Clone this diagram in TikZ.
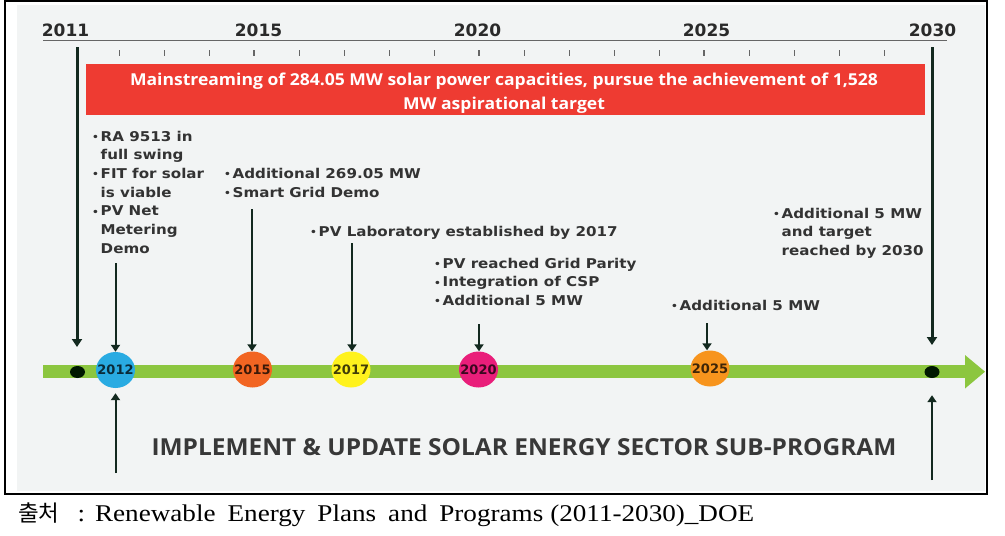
\documentclass[tikz,border=0pt]{standalone}
\usepackage{fontspec}
\setmainfont{Liberation Serif}
\newfontfamily\lab[FakeStretch=1.12]{DejaVu Sans}
\newfontfamily\yr{DejaVu Sans}
\newfontfamily\ban[FakeStretch=1.07]{Open Sans}
\newfontfamily\banw[FakeStretch=1.045]{Open Sans}
\newfontfamily\capf[FakeStretch=1.13]{Liberation Serif}
\newfontfamily\kr{Noto Sans CJK KR}
\usetikzlibrary{arrows.meta,shapes.geometric}
\definecolor{bgc}{HTML}{F2F4F4}
\definecolor{grn}{HTML}{8CC63F}
\definecolor{redc}{HTML}{EE3B32}
\definecolor{arrc}{HTML}{13291F}
\definecolor{txt}{HTML}{333333}
\definecolor{yearc}{HTML}{2A2A2A}
\definecolor{c12}{HTML}{29ABE2}
\definecolor{c15}{HTML}{F26522}
\definecolor{c17}{HTML}{FFF21D}
\definecolor{c20}{HTML}{E91E7A}
\definecolor{c25}{HTML}{F7941D}
\newcommand\bul{\makebox[8.5pt][l]{\fontsize{9.5}{9.5}\selectfont\raisebox{0.5pt}{•}}}
\newcommand\ind{\hspace*{8.5pt}}
\begin{document}
\begin{tikzpicture}[x=1pt,y=-1pt,
  arr/.style={draw=arrc, line width=2pt, -{Triangle[width=9pt,length=7pt]}},
  bigarr/.style={arr, line width=3pt, -{Triangle[width=10pt,length=8pt]}},
  blk/.style={anchor=base west, inner sep=0pt, text=txt, font=\lab\bfseries\fontsize{13.5}{18.7}\selectfont},
  yearlab/.style={anchor=base, inner sep=0pt, text=yearc, font=\yr\bfseries\fontsize{17}{17}\selectfont},
  circ/.style={rectangle, minimum width=39pt, minimum height=36pt, inner sep=0pt,
    path picture={\fill[#1] (path picture bounding box.center) ellipse (19.5 and 18);},
    text=#1!25!black, font=\yr\bfseries\fontsize{13}{13}\selectfont},
  tick/.style={draw=black!60, line width=0.9pt}
]
\useasboundingbox (0,0) rectangle (1005,536);
% background and frame
\fill[bgc] (17,5) rectangle (985,491);
\draw[black, line width=1.5pt] (5,1) rectangle (987,494);

% year scale
\node[yearlab] (y2011) at (65.5,36) {2011};
\node[yearlab] (y2015) at (258.5,36) {2015};
\node[yearlab] (y2020) at (477.5,36) {2020};
\node[yearlab] (y2025) at (706.5,36) {2025};
\node[yearlab] (y2030) at (932.5,36) {2030};
\draw[black!60, line width=1pt] (43,40.7) -- (947,40.7);
\foreach \i in {0,...,17} {
  \draw[tick] (119+45*\i,50) -- (119+45*\i,56);
}
\foreach \i in {3,8,13} {
  \draw[tick, line width=1.6pt] (119+45*\i,50) -- (119+45*\i,56);
}

% banner
\fill[redc] (86,64) rectangle (925,115);
\node[inner sep=0pt, text=white, align=center, font=\ban\bfseries\fontsize{16.4}{24}\selectfont, anchor=base] (banner) at (504,109)
  {Mainstreaming of 284.05 MW solar power capacities, pursue the achievement of 1,528\\MW aspirational target};

% timeline band
\fill[grn] (43,365) rectangle (967,378.3);
\fill[grn] (965,355) -- (985,371.7) -- (965,388.5) -- cycle;

% dots and circles
\node[ellipse, fill=black!90!green, minimum width=15pt, minimum height=12pt, inner sep=0pt] (dot2011) at (77.5,372) {};
\node[ellipse, fill=black!90!green, minimum width=15pt, minimum height=12pt, inner sep=0pt] (dot2030) at (932,372) {};
\node[circ=c12] (c2012) at (115.5,370) {2012};
\node[circ=c15] (c2015) at (252.5,369.5) {2015};
\node[circ=c17] (c2017) at (351,369.5) {2017};
\node[circ=c20] (c2020) at (478.5,369.5) {2020};
\node[circ=c25] (c2025) at (710,368.5) {2025};

% text blocks
\node[blk] (t2012) at (92,141) {\begin{tabular}[t]{@{}l@{}}\bul RA 9513 in\\\ind full swing\\\bul FIT for solar\\\ind is viable\\\bul PV Net\\\ind Metering\\\ind Demo\end{tabular}};
\node[blk] (t2015) at (224,178.3) {\begin{tabular}[t]{@{}l@{}}\bul Additional 269.05 MW\\\bul Smart Grid Demo\end{tabular}};
\node[blk] (t2017) at (310,236) {\bul PV Laboratory established by 2017};
\node[blk] (t2020) at (434,268) {\begin{tabular}[t]{@{}l@{}}\bul PV reached Grid Parity\\\bul Integration of CSP\\\bul Additional 5 MW\end{tabular}};
\node[blk] (t2025) at (671,310) {\bul Additional 5 MW};
\node[blk] (t2030) at (773,218) {\begin{tabular}[t]{@{}l@{}}\bul Additional 5 MW\\\ind and target\\\ind reached by 2030\end{tabular}};

% arrow tails
\coordinate (a2012) at (115.5,263);
\coordinate (a2015) at (252,209);
\coordinate (a2017) at (352,243);
\coordinate (a2020) at (479,324);
\coordinate (a2025) at (707,323);
\coordinate (b2012) at (115.5,473);
\coordinate (b2030) at (932,480);
\coordinate (top2011) at (77,47);
\coordinate (top2030) at (932,47);
\coordinate (tip2011) at (77,347);
\coordinate (tip2030) at (932,345);

\draw[arr] (a2012) -- (a2012 |- c2012.north);
\draw[arr] (a2015) -- (a2015 |- c2015.north);
\draw[arr] (a2017) -- (a2017 |- c2017.north);
\draw[arr] (a2020) -- (a2020 |- c2020.north);
\draw[arr] (a2025) -- (a2025 |- c2025.north);
\draw[arr, shorten >=5pt] (b2012) -- (c2012.south);
\draw[arr, line width=2.5pt, shorten >=17pt] (b2030) -- (dot2030.south);
\draw[bigarr] (top2011) -- (tip2011);
\draw[bigarr] (top2030) -- (tip2030);

% bottom program label
\node[inner sep=0pt, anchor=base, text=black!78, font=\banw\bfseries\fontsize{23.4}{24}\selectfont] (prog) at (524,455.7)
  {IMPLEMENT \& UPDATE SOLAR ENERGY SECTOR SUB-PROGRAM};

% caption
\node[inner sep=0pt, anchor=base west, font=\capf\fontsize{24}{24}\selectfont] (src) at (18,521)
  {{\kr\fontsize{22.5}{24}\selectfont 출처}\hspace{18pt}:\hspace{10pt}{\spaceskip=12pt Renewable Energy Plans and Programs}\hspace{7pt}(2011-2030)\_DOE};
\end{tikzpicture}
\end{document}
